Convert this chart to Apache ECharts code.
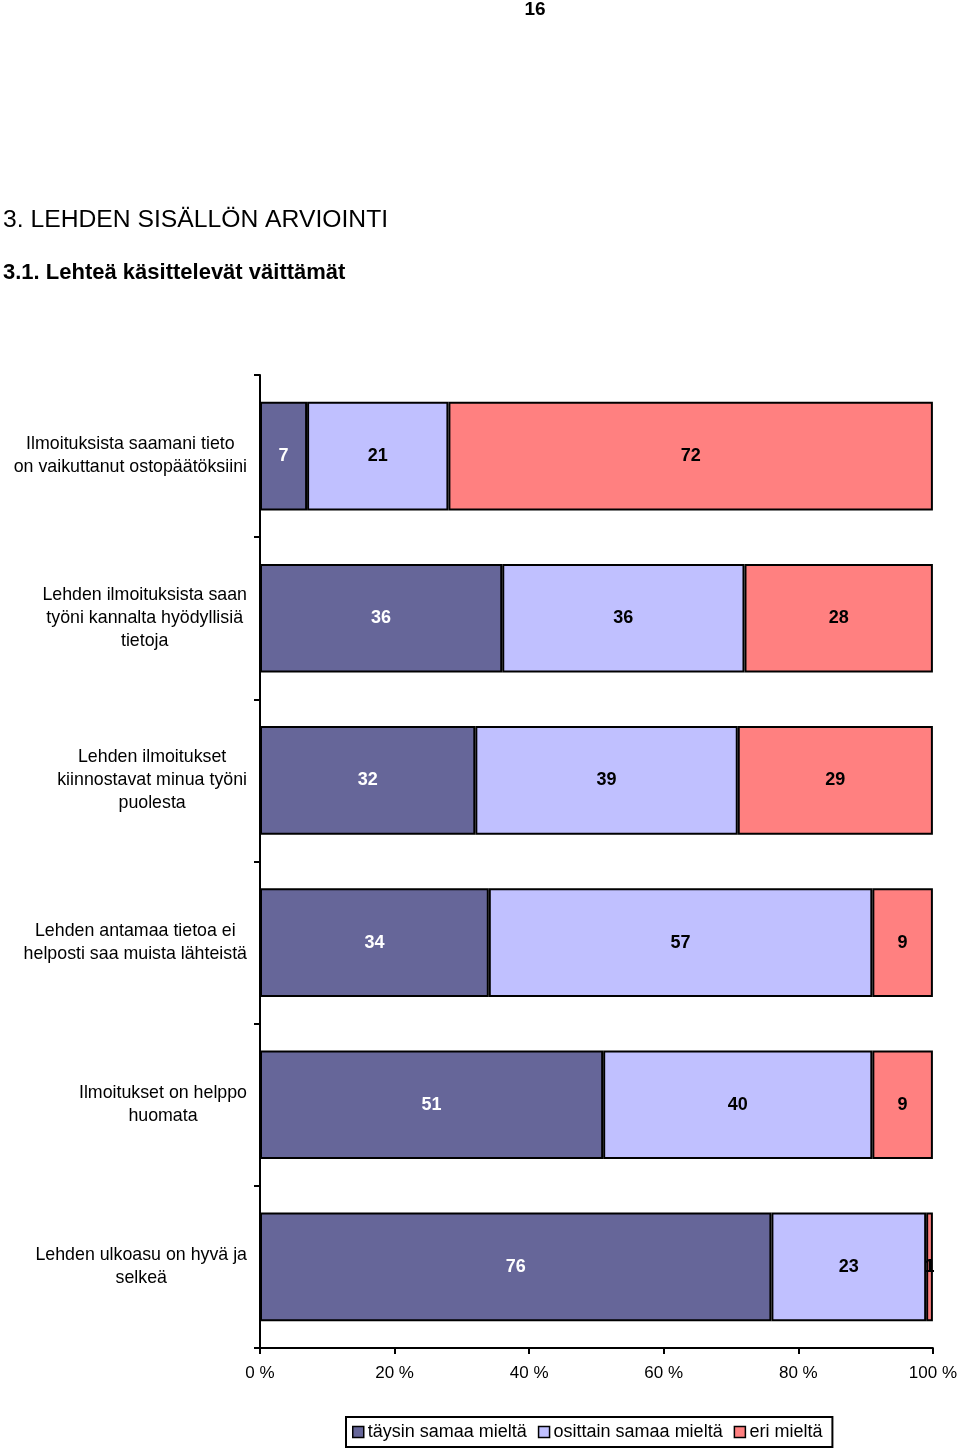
<!DOCTYPE html>
<html>
<head>
<meta charset="utf-8">
<script src="https://cdn.jsdelivr.net/npm/echarts@6/dist/echarts.min.js"></script>
<style>
html,body{margin:0;padding:0;background:#fff;}
#chart{width:960px;height:1453px;}
</style>
</head>
<body>
<div id="chart"></div>
<script>
var pageNumber = '16';
var heading = '3. LEHDEN SISÄLLÖN ARVIOINTI';
var subheading = '3.1. Lehteä käsittelevät väittämät';
var categories = [
  'Ilmoituksista saamani tieto\non vaikuttanut ostopäätöksiini',
  'Lehden ilmoituksista saan\ntyöni kannalta hyödyllisiä\ntietoja',
  'Lehden ilmoitukset\nkiinnostavat minua työni\npuolesta',
  'Lehden antamaa tietoa ei\nhelposti saa muista lähteistä',
  'Ilmoitukset on helppo\nhuomata',
  'Lehden ulkoasu on hyvä ja\nselkeä'
];
var seriesNames = ['täysin samaa mieltä', 'osittain samaa mieltä', 'eri mieltä'];
var taysin = [7, 36, 32, 34, 51, 76];
var osittain = [21, 36, 39, 57, 40, 23];
var eri = [72, 28, 29, 9, 9, 1];
var colors = ['#666699', '#C0C0FF', '#FF8080'];
var labelColors = ['#ffffff', '#000000', '#000000'];

var chart = echarts.init(document.getElementById('chart'));
var FONT = '"Liberation Sans", Arial, sans-serif';
var NARROW = '"Liberation Sans Narrow", "Arial Narrow", "Liberation Sans", sans-serif';

function mkSeries(i, data) {
  return {
    name: seriesNames[i],
    type: 'bar',
    stack: 'total',
    data: data,
    barCategoryGap: '33%',
    itemStyle: { color: colors[i], borderColor: '#000', borderWidth: 2 },
    label: {
      show: true,
      position: 'inside',
      color: labelColors[i],
      fontFamily: NARROW,
      fontWeight: 'bold',
      fontSize: 18
    },
    emphasis: { disabled: true }
  };
}

chart.setOption({
  animation: false,
  backgroundColor: '#fff',
  title: [
    { text: pageNumber, left: 535, top: 0, padding: 0, textAlign: 'center',
      textStyle: { fontFamily: NARROW, fontWeight: 'bold', fontSize: 19, color: '#000' } },
    { text: heading, left: 3, top: 208, padding: 0,
      textStyle: { fontFamily: FONT, fontWeight: 'normal', fontSize: 24.7, color: '#000' } },
    { text: subheading, left: 3, top: 262, padding: 0,
      textStyle: { fontFamily: FONT, fontWeight: 'bold', fontSize: 22, color: '#000' } }
  ],
  legend: {
    bottom: 6,
    left: 346,
    data: seriesNames,
    icon: 'rect',
    itemWidth: 11,
    itemHeight: 11,
    itemGap: 11,
    padding: [6, 10, 6, 6],
    borderColor: '#000',
    borderWidth: 2,
    selectedMode: false,
    itemStyle: { borderColor: '#000', borderWidth: 1.5 },
    textStyle: { fontFamily: FONT, fontSize: 18, color: '#000', padding: [0, 0, 0, -1] }
  },
  grid: { left: 260, right: 27, top: 375, bottom: 105, containLabel: false },
  xAxis: {
    type: 'value',
    min: 0,
    max: 100,
    interval: 20,
    axisLine: { show: true, lineStyle: { color: '#000', width: 2 } },
    axisTick: { show: true, length: 6, lineStyle: { color: '#000', width: 2 } },
    splitLine: { show: false },
    axisLabel: { formatter: '{value} %', fontFamily: FONT, fontSize: 17, color: '#000', margin: 17 }
  },
  yAxis: {
    type: 'category',
    inverse: true,
    data: categories,
    axisLine: { show: true, lineStyle: { color: '#000', width: 2 } },
    axisTick: { show: true, length: 6, lineStyle: { color: '#000', width: 2 } },
    axisLabel: {
      margin: 13,
      align: 'right',
      formatter: function (v) { return '{c|' + v + '}'; },
      rich: { c: { align: 'center', fontFamily: FONT, fontSize: 17.8, lineHeight: 23, color: '#000' } }
    }
  },
  series: [mkSeries(0, taysin), mkSeries(1, osittain), mkSeries(2, eri)]
});
</script>
</body>
</html>
